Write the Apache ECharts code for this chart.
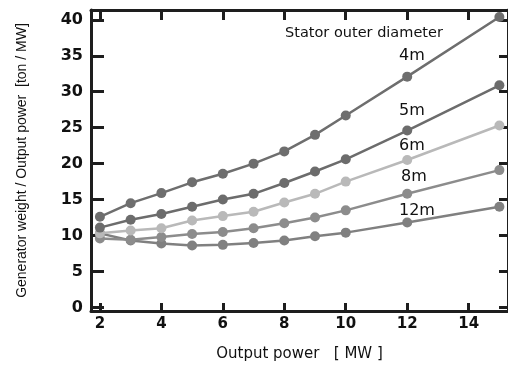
<!DOCTYPE html>
<html><head><meta charset="utf-8">
<script src="https://cdn.jsdelivr.net/npm/echarts@6/dist/echarts.min.js"></script>
<style>html,body{margin:0;padding:0;background:#fff}#c{width:508px;height:367px}</style>
</head><body><div id="c"></div>
<script>
const power = [2, 3, 4, 5, 6, 7, 8, 9, 10, 12, 15];
const d4m  = [12.6, 14.5, 15.9, 17.4, 18.6, 20.0, 21.7, 24.0, 26.7, 32.1, 40.4];
const d5m  = [11.1, 12.2, 13.0, 14.0, 15.0, 15.8, 17.3, 18.9, 20.6, 24.6, 30.9];
const d6m  = [10.3, 10.7, 11.0, 12.1, 12.7, 13.3, 14.6, 15.8, 17.5, 20.5, 25.3];
const d8m  = [9.6, 9.4, 9.8, 10.2, 10.5, 11.0, 11.7, 12.5, 13.5, 15.8, 19.1];
const d12m = [10.3, 9.3, 8.9, 8.6, 8.7, 8.95, 9.3, 9.9, 10.4, 11.8, 14.0];
const xTicks = [2, 4, 6, 8, 10, 12, 14];
const yTicks = [0, 5, 10, 15, 20, 25, 30, 35, 40];
const seriesNames = ['4m', '5m', '6m', '8m', '12m'];
const seriesColors = ['#6e6e6e', '#6c6c6c', '#b9b9b9', '#8c8c8c', '#808080'];
const seriesData = [d4m, d5m, d6m, d8m, d12m];

const axisColor = '#1e1e1e';
const chart = echarts.init(document.getElementById('c'), null, {renderer: 'canvas'});
function xAx(pos, len, showLabel) {
  return {
    type: 'value', position: pos, min: 1.71, max: 15.28,
    axisLine: {show: true, onZero: false, lineStyle: {color: axisColor, width: 3}},
    axisTick: {show: true, inside: true, length: len, customValues: xTicks, lineStyle: {color: axisColor, width: 3}},
    axisLabel: {show: showLabel, customValues: xTicks, color: '#111', fontFamily: 'DejaVu Sans', fontWeight: 'bold', fontSize: 15, margin: 6},
    splitLine: {show: false},
    name: showLabel ? 'Output power   [ MW ]' : '',
    nameLocation: 'middle', nameGap: 36,
    nameTextStyle: {color: '#111', fontFamily: 'DejaVu Sans', fontSize: 15}
  };
}
function yAx(pos, len, showLabel) {
  return {
    type: 'value', position: pos, min: -0.5, max: 41.37,
    axisLine: {show: true, onZero: false, lineStyle: {color: axisColor, width: 3}},
    axisTick: {show: true, inside: true, length: len, customValues: yTicks, lineStyle: {color: axisColor, width: 3}},
    axisLabel: {show: showLabel, customValues: yTicks, color: '#111', fontFamily: 'DejaVu Sans', fontWeight: 'bold', fontSize: 16, margin: 8},
    splitLine: {show: false},
    name: showLabel ? 'Generator weight / Output power  [ton / MW]' : '',
    nameLocation: 'middle', nameGap: 62,
    nameTextStyle: {color: '#111', fontFamily: 'Liberation Sans', fontSize: 14}
  };
}
const labelStyle = {fill: '#111', font: '16px "DejaVu Sans"', textVerticalAlign: 'middle'};
chart.setOption({
  animation: false,
  backgroundColor: '#fff',
  grid: {left: 91, top: 10, right: -1, bottom: 50, containLabel: false},
  xAxis: [xAx('bottom', 8, true), xAx('top', 10, false)],
  yAxis: [yAx('left', 13, true), yAx('right', 9, false)],
  series: seriesNames.map((n, i) => ({
    name: n, type: 'line', xAxisIndex: 0, yAxisIndex: 0,
    data: power.map((p, j) => [p, seriesData[i][j]]),
    symbol: 'circle', symbolSize: 10,
    lineStyle: {color: seriesColors[i], width: 2.5},
    itemStyle: {color: seriesColors[i]},
    z: 10 - i
  })),
  graphic: [
    {type: 'text', left: 285, top: 26, style: Object.assign({}, labelStyle, {text: 'Stator outer diameter', font: '14.5px "DejaVu Sans"'})},
    {type: 'text', left: 399, top: 48, style: Object.assign({}, labelStyle, {text: '4m'})},
    {type: 'text', left: 399, top: 103, style: Object.assign({}, labelStyle, {text: '5m'})},
    {type: 'text', left: 399, top: 138, style: Object.assign({}, labelStyle, {text: '6m'})},
    {type: 'text', left: 401, top: 169, style: Object.assign({}, labelStyle, {text: '8m'})},
    {type: 'text', left: 399, top: 203, style: Object.assign({}, labelStyle, {text: '12m'})}
  ]
});
</script></body></html>
